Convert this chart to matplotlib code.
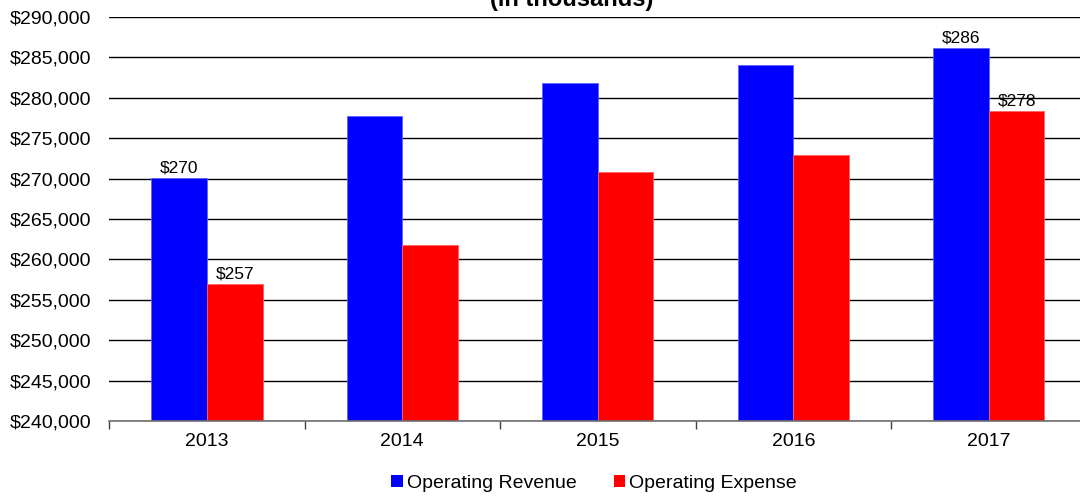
import numpy as np
import matplotlib
matplotlib.use("Agg")
import matplotlib.pyplot as plt
from matplotlib.patches import Patch

plt.rcParams['font.family'] = ['Liberation Sans', 'DejaVu Sans']

years = ['2013', '2014', '2015', '2016', '2017']
revenue = [270100, 277700, 281800, 284000, 286100]
expense = [256900, 261800, 270800, 272900, 278400]
labeled_years = ['2013', '2017']

fig = plt.figure(figsize=(10.8, 4.97), dpi=100)
ax = fig.add_axes([0.101, 0.153, 0.905, 0.813])

x = np.arange(len(years))
w = 0.285
ax.bar(x - w / 2, revenue, w, color='#0000ff', edgecolor='#6060ff', linewidth=0.6, zorder=3)
ax.bar(x + w / 2, expense, w, color='#ff0000', edgecolor='#ff6060', linewidth=0.6, zorder=3)

# value labels (in thousands) only on first and last year
for i, yr in enumerate(years):
    if yr in labeled_years:
        ax.text(x[i] - w / 2, revenue[i] + 300, f"${revenue[i] / 1000:.0f}",
                ha='center', va='bottom', fontsize=12.5)
        ax.text(x[i] + w / 2, expense[i] + 300, f"${expense[i] / 1000:.0f}",
                ha='center', va='bottom', fontsize=12.5)

ax.set_ylim(240000, 290000)
ax.set_yticks(np.arange(240000, 290001, 5000))
ax.yaxis.set_major_formatter(matplotlib.ticker.FuncFormatter(lambda v, p: f"${v:,.0f}"))
ax.yaxis.grid(True, color='black', linewidth=1.0, zorder=0)
ax.tick_params(axis='y', length=0, labelsize=14, pad=13)

ax.set_xlim(-0.5, len(years) - 0.5)
ax.set_xticks(x)
ax.set_xticklabels(years)
ax.set_xticks(np.arange(-0.5, len(years)), minor=True)
ax.tick_params(axis='x', which='major', length=0, labelsize=14, pad=9)
ax.tick_params(axis='x', which='minor', length=6, width=1, color='#404040')

for s in ['left', 'right', 'top']:
    ax.spines[s].set_visible(False)
ax.spines['bottom'].set_color('#707070')
ax.spines['bottom'].set_linewidth(1.2)
ax.spines['bottom'].set_zorder(4)

fig.text(0.529, 0.978, "Operating Revenue and Expense\n(in thousands)",
         ha='center', va='bottom', fontsize=17, fontweight='bold', linespacing=1.0)

handles = [Patch(facecolor='#0000ff'), Patch(facecolor='#ff0000')]
fig.legend(handles, ['Operating Revenue', 'Operating Expense'],
           loc='center', bbox_to_anchor=(0.55, 0.027), ncol=2, frameon=False,
           fontsize=14, handlelength=0.6, handleheight=0.6, handletextpad=0.2,
           columnspacing=1.9)

fig.savefig('out.png', dpi=100)
